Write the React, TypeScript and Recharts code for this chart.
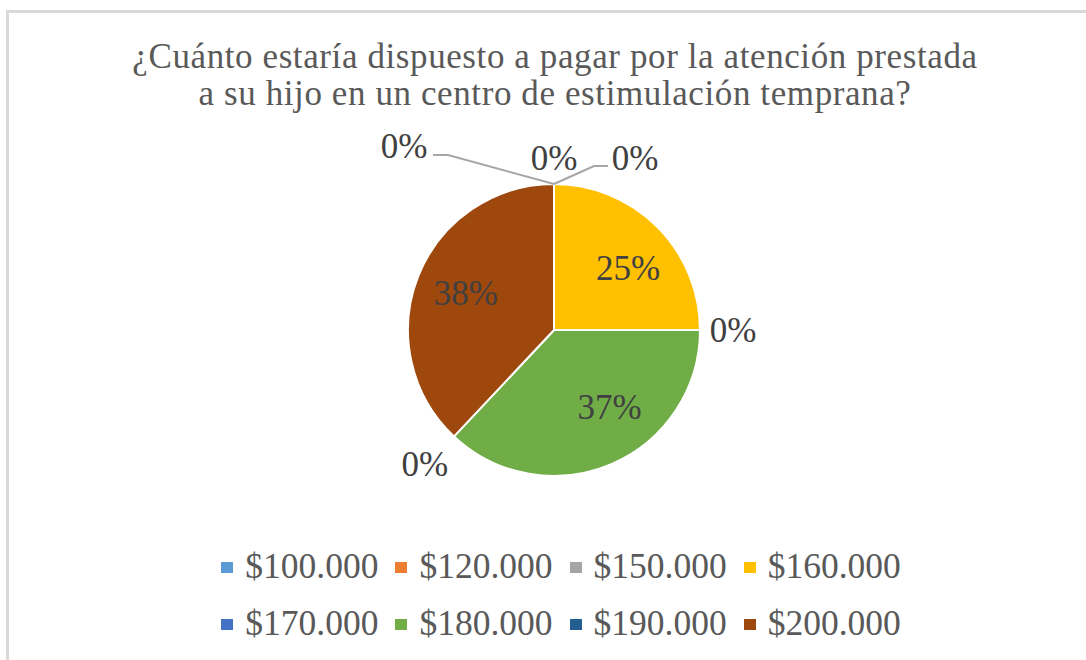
import React from 'react';
import { PieChart, Pie, Cell, Legend } from 'recharts';

const categories = ['$100.000', '$120.000', '$150.000', '$160.000', '$170.000', '$180.000', '$190.000', '$200.000'];
const values = [0, 0, 0, 25, 0, 37, 0, 38];
const colors = ['#5B9BD5', '#ED7D31', '#A5A5A5', '#FFC000', '#4472C4', '#70AD47', '#255E91', '#9E480E'];
const titleLines = ['¿Cuánto estaría dispuesto a pagar por la atención prestada', 'a su hijo en un centro de estimulación temprana?'];

const data = categories.map((name, i) => ({ name, value: values[i] }));

const FONT = '"Liberation Serif", "Times New Roman", serif';
const RADIAN = Math.PI / 180;

// label placement nudges (Excel best-fit imitation)
const labelNudge: Record<number, { dx: number; dy: number; leader?: 'left' | 'right' }> = {
  0: { dx: -150, dy: -10, leader: 'left' },
  1: { dx: 0, dy: 2 },
  2: { dx: 81, dy: 2, leader: 'right' },
  3: { dx: 7, dy: 6 },
  4: { dx: 5, dy: 0 },
  5: { dx: 18, dy: -10 },
  6: { dx: -10, dy: 8 },
  7: { dx: 0, dy: -2 },
};

const renderLabel = (props: any) => {
  const { cx, cy, midAngle, outerRadius, percent, index } = props;
  const cos = Math.cos(-midAngle * RADIAN);
  const sin = Math.sin(-midAngle * RADIAN);
  const txt = `${Math.round(percent * 100)}%`;
  const n = labelNudge[index] || { dx: 0, dy: 0 };
  const r = percent > 0 ? outerRadius * 0.65 : outerRadius + 28;
  const x = cx + r * cos + n.dx;
  const y = cy + r * sin + n.dy;
  const px = cx + outerRadius * cos;
  const py = cy + outerRadius * sin;
  let leader = null;
  if (n.leader === 'left') {
    leader = <polyline points={`${x + 29},${y + 9} ${x + 44},${y + 9} ${px},${py}`} fill="none" stroke="#A6A6A6" strokeWidth={2} />;
  } else if (n.leader === 'right') {
    leader = <polyline points={`${px},${py} ${x - 41},${y + 8} ${x - 27},${y + 8}`} fill="none" stroke="#A6A6A6" strokeWidth={2} />;
  }
  return (
    <g>
      {leader}
      <text x={x} y={y} fill="#404040" fontSize={35} fontFamily={FONT} textAnchor="middle" dominantBaseline="central">
        {txt}
      </text>
    </g>
  );
};

const renderLegend = (props: any) => {
  const payload = props.payload || [];
  const rows = [payload.slice(0, 4), payload.slice(4, 8)];
  return (
    <div style={{ fontFamily: FONT }}>
      {rows.map((row: any[], ri: number) => (
        <div key={ri} style={{ display: 'flex', justifyContent: 'center', alignItems: 'center', height: 57 }}>
          {row.map((item: any, i: number) => (
            <div key={i} style={{ display: 'flex', alignItems: 'center', marginRight: i < row.length - 1 ? 17 : 0 }}>
              <span style={{ display: 'inline-block', width: 12, height: 11, background: item.color, marginRight: 12, marginTop: 4 }} />
              <span style={{ fontSize: 35.5, color: '#595959', lineHeight: '40px', whiteSpace: 'nowrap' }}>{item.value}</span>
            </div>
          ))}
        </div>
      ))}
    </div>
  );
};

export default function App() {
  return (
    <div style={{ position: 'absolute', left: 0, top: 0, width: 1086, height: 660, background: '#fff', overflow: 'hidden' }}>
      <div style={{ position: 'absolute', left: 6, top: 10, width: 1100, height: 700, borderTop: '3px solid #D9D9D9', borderLeft: '3px solid #D9D9D9' }} />
      <div style={{ position: 'absolute', left: 0, top: 38, width: 1110, textAlign: 'center', fontFamily: FONT, fontSize: 35, letterSpacing: 0.6, color: '#595959', lineHeight: '37px' }}>
        {titleLines.map((t, i) => (
          <div key={i}>{t}</div>
        ))}
      </div>
      <div style={{ position: 'absolute', left: 0, top: 0 }}>
        <PieChart width={1086} height={660} margin={{ top: 0, right: 0, bottom: 0, left: 0 }}>
          <Pie
            data={data}
            dataKey="value"
            nameKey="name"
            cx={554}
            cy={330}
            outerRadius={146}
            startAngle={90}
            endAngle={-270}
            stroke="#FFFFFF"
            strokeWidth={2}
            label={renderLabel}
            labelLine={false}
            isAnimationActive={false}
          >
            {data.map((d, i) => (
              <Cell key={d.name} fill={colors[i]} />
            ))}
          </Pie>
          <Legend content={renderLegend} wrapperStyle={{ top: 537, left: 24, width: 1074 }} />
        </PieChart>
      </div>
    </div>
  );
}
